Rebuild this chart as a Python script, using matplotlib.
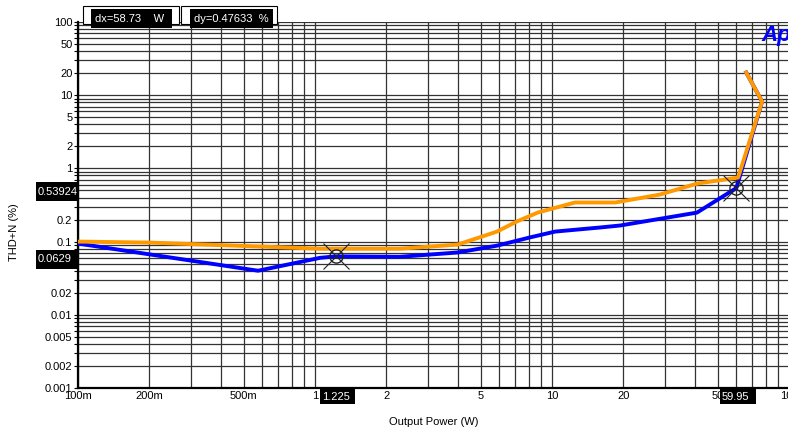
import numpy as np
import matplotlib.pyplot as plt
from matplotlib.patches import Rectangle
from matplotlib.ticker import FixedLocator, FixedFormatter, LogLocator, NullFormatter

plt.rcParams['font.family'] = ['Liberation Sans', 'DejaVu Sans']

# traces (W, %)
blue_x = [0.1, 0.575, 1.05, 1.225, 2.28, 4.0, 5.86, 8.07, 10.3, 16.0, 19.4, 40.9, 59.95, 77, 66]
blue_y = [0.094, 0.040, 0.060, 0.0629, 0.062, 0.071, 0.088, 0.114, 0.137, 0.156, 0.166, 0.249, 0.539, 8.2, 20.4]
orange_x = [0.1, 0.2, 1.05, 2.28, 4.0, 5.86, 7.1, 8.7, 12.5, 18.5, 28.6, 40.9, 61, 77, 66]
orange_y = [0.1, 0.097, 0.080, 0.080, 0.091, 0.137, 0.188, 0.249, 0.342, 0.342, 0.44, 0.62, 0.75, 8.2, 20.4]

cursor_x = [1.225, 59.95]
cursor_y = [0.0629, 0.539]
cursor_xlabels = ['1.225', '59.95']
cursor_ylabels = ['0.0629', '0.53924']
dx_text = 'dx=58.73    W'
dy_text = 'dy=0.47633  %'

xt = [0.1, 0.2, 0.5, 1, 2, 5, 10, 20, 50, 100]
xtl = ['100m', '200m', '500m', '1', '2', '5', '10', '20', '50', '100']
yt = [0.001, 0.002, 0.005, 0.01, 0.02, 0.05, 0.1, 0.2, 0.5, 1, 2, 5, 10, 20, 50, 100]
ytl = ['0.001', '0.002', '0.005', '0.01', '0.02', '0.05', '0.1', '0.2', '0.5', '1', '2', '5', '10', '20', '50', '100']

W, H = 788, 433
fig = plt.figure(figsize=(W / 100, H / 100), dpi=100)
ax = fig.add_axes([78 / W, (H - 388) / H, 711 / W, 366 / H])
ax.set_xscale('log')
ax.set_yscale('log')
ax.set_xlim(0.1, 100)
ax.set_ylim(0.001, 100)

ax.xaxis.set_major_locator(FixedLocator(xt))
ax.xaxis.set_major_formatter(FixedFormatter(xtl))
ax.yaxis.set_major_locator(FixedLocator(yt))
ax.yaxis.set_major_formatter(FixedFormatter(ytl))
ax.xaxis.set_minor_locator(LogLocator(base=10, subs=np.arange(1, 10)))
ax.yaxis.set_minor_locator(LogLocator(base=10, subs=np.arange(1, 10)))
ax.xaxis.set_minor_formatter(NullFormatter())
ax.yaxis.set_minor_formatter(NullFormatter())
ax.tick_params(axis='both', which='both', labelsize=8, length=3, width=0.8, pad=1)
ax.tick_params(axis='x', which='both', length=0, pad=2)
ax.grid(True, which='both', color='#333333', lw=0.9)
for s in ['top', 'right']:
    ax.spines[s].set_visible(False)
for s in ['bottom', 'left']:
    ax.spines[s].set_linewidth(1.6)

ax.plot(blue_x, blue_y, color='#0000ff', lw=2.8, zorder=3)
ax.plot(orange_x, orange_y, color='#ff9900', lw=2.8, zorder=4)

# cursor markers
ax.plot(cursor_x, cursor_y, 'o', ms=9.5, mfc='none', mec='#222222', mew=1.0, zorder=5)
ax.plot(cursor_x, cursor_y, 'x', ms=19, mec='#222222', mew=0.8, zorder=5)

ax.set_xlabel('Output Power (W)', fontsize=8, labelpad=12)
fig.text(14 / W, 1 - 232 / H, 'THD+N (%)', rotation=90, fontsize=8, ha='center', va='center')


def box(x0, y0, x1, y1, txt, tx=None):
    fig.patches.append(Rectangle((x0 / W, 1 - y1 / H), (x1 - x0) / W, (y1 - y0) / H,
                                 transform=fig.transFigure, facecolor='black', edgecolor='none', zorder=10))
    fig.text((tx if tx else x0 + 2) / W, 1 - (y0 + y1) / 2 / H, txt, color='white', fontsize=8,
             ha='left', va='center', zorder=11)


# y-axis cursor readouts
box(36, 182, 78, 201, cursor_ylabels[1])
box(36, 250, 78, 269, cursor_ylabels[0])
# x-axis cursor readouts
box(320, 389, 355, 404, cursor_xlabels[0], 322)
box(720, 389, 756, 404, cursor_xlabels[1], 722)

# top delta readouts
for fx0, fx1, bx0, bx1, txt in [(83, 179, 91, 172, dx_text), (181, 277, 190, 273, dy_text)]:
    fig.patches.append(Rectangle((fx0 / W, 1 - 24 / H), (fx1 - fx0) / W, 18 / H, transform=fig.transFigure,
                                 facecolor='white', edgecolor='black', lw=0.8, zorder=9))
    box(bx0, 9, bx1, 28, txt, bx0 + 4)

fig.text(761 / W, 1 - 35 / H, 'Ap', color='#0000ff', fontsize=16, fontweight='bold', style='italic',
         ha='left', va='center')

fig.savefig('out.png', dpi=100)
